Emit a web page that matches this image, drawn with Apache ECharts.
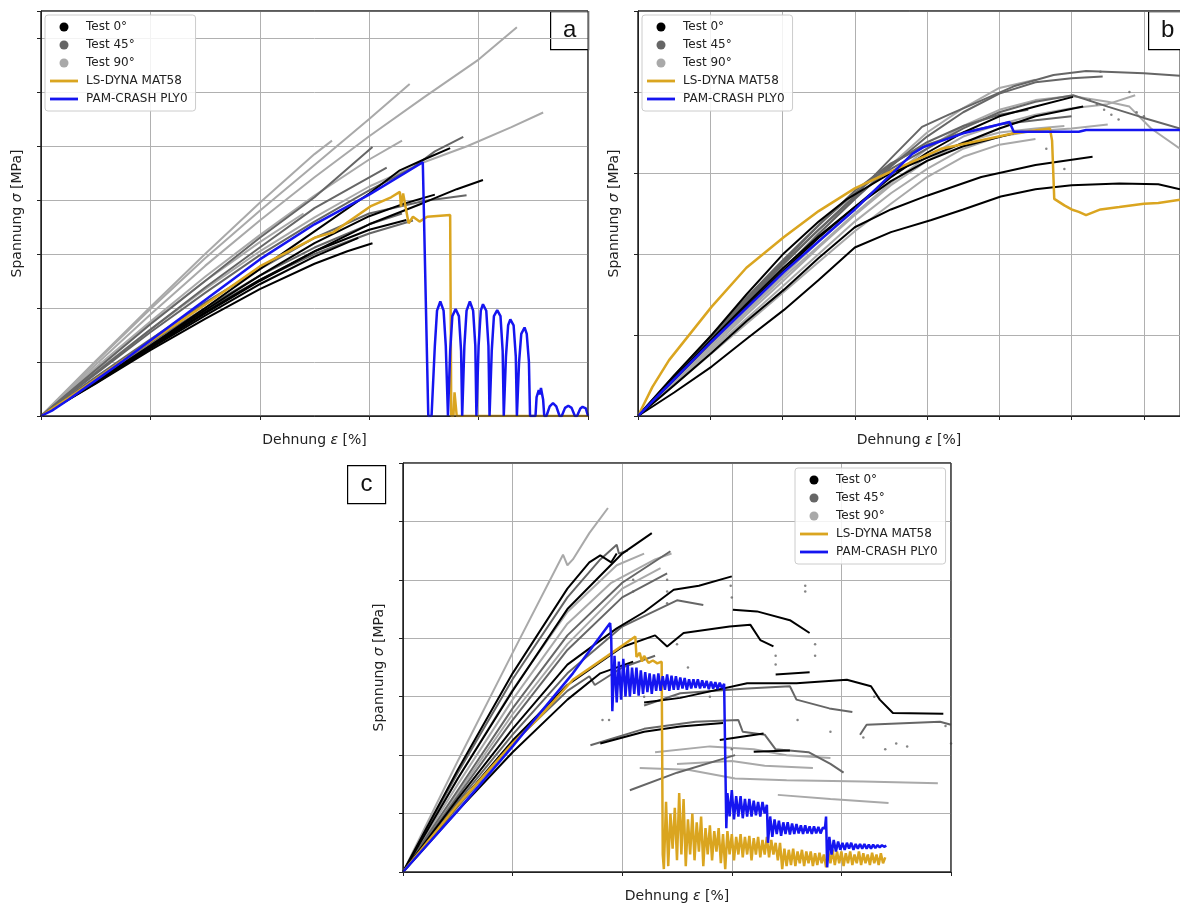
<!DOCTYPE html>
<html><head><meta charset="utf-8">
<script src="https://cdn.jsdelivr.net/npm/echarts@6/dist/echarts.min.js"></script>
<style>html,body{margin:0;padding:0;background:#fff}#c{width:1180px;height:904px}</style>
</head><body><div id="c"></div>
<script>
// ---------- names ----------
const LEGEND_NAMES = ['Test 0°', 'Test 45°', 'Test 90°', 'LS-DYNA MAT58', 'PAM-CRASH PLY0'];
const X_NAME = 'Dehnung ε [%]';
const Y_NAME = 'Spannung σ [MPa]';
const PANEL_LABELS = ['a', 'b', 'c'];

// ---------- panel a (strain vs stress, arbitrary units) ----------
const A_TEST0 = [
  [[0,0],[0.5,0.62],[1,1.3],[1.5,2.0],[2,2.72],[2.5,3.42],[3,4.12],[3.28,4.55],[3.5,4.75],[3.74,4.96]],
  [[0,0],[0.5,0.62],[1,1.27],[1.5,1.9],[2,2.5],[2.5,3.05],[3,3.55],[3.5,3.95],[3.8,4.2],[4.04,4.37]],
  [[0,0],[0.5,0.6],[1,1.22],[1.5,1.8],[2,2.35],[2.5,2.82],[2.8,3.05],[3.03,3.2]],
  [[0,0],[0.5,0.63],[1,1.28],[1.5,1.92],[2,2.52],[2.5,3.05],[3,3.45],[3.34,3.63]],
  [[0,0],[0.5,0.64],[1,1.3],[1.5,1.96],[2,2.6],[2.5,3.2],[3,3.7],[3.3,3.92],[3.6,4.1]],
  [[0,0],[0.5,0.61],[1,1.25],[1.5,1.86],[2,2.44],[2.5,2.95],[2.9,3.3]]
];
const A_TEST45 = [
  [[0,0],[0.5,0.78],[1,1.55],[1.5,2.28],[2,2.98],[2.5,3.6],[3,4.18],[3.4,4.6],[3.6,4.9],[3.86,5.17]],
  [[0,0],[0.5,0.85],[1,1.7],[1.5,2.5],[2,3.3],[2.5,4.05],[3.03,4.98]],
  [[0,0],[0.5,0.72],[1,1.42],[1.5,2.1],[2,2.72],[2.5,3.3],[3,3.75],[3.5,3.98],[3.89,4.09]],
  [[0,0],[0.5,0.66],[1,1.32],[1.5,1.95],[2,2.52],[2.5,3.0],[3,3.38],[3.4,3.62]],
  [[0,0],[0.5,0.8],[1,1.6],[1.5,2.38],[2,3.12],[2.5,3.85],[3.16,4.6]],
  [[0,0],[0.5,0.68],[1,1.36],[1.5,2.0],[2,2.6],[2.5,3.12],[3,3.55],[3.3,3.75]]
];
const A_TEST90 = [
  [[0,0],[0.5,0.95],[1,1.88],[1.5,2.78],[2,3.62],[2.5,4.42],[3,5.18],[3.5,5.9],[4,6.6],[4.35,7.2]],
  [[0,0],[0.5,1.0],[1,1.98],[1.5,2.92],[2,3.8],[2.5,4.65],[3,5.5],[3.37,6.15]],
  [[0,0],[0.5,0.82],[1,1.6],[1.5,2.35],[2,3.05],[2.5,3.68],[3,4.25],[3.5,4.7],[3.9,5.0],[4.3,5.35],[4.59,5.62]],
  [[0,0],[0.5,1.02],[1,2.02],[1.5,3.0],[2,3.95],[2.5,4.85],[2.66,5.1]],
  [[0,0],[0.5,0.9],[1,1.75],[1.5,2.58],[2,3.35],[2.5,4.08],[3,4.75],[3.3,5.1]],
  [[0,0],[0.5,0.88],[1,1.72],[1.5,2.5],[2,3.22],[2.4,3.75]]
];
const A_LSDYNA = [[0,0],[0.25,0.33],[0.5,0.68],[0.75,1.03],[1,1.38],[1.5,2.06],[2,2.77],[2.5,3.3],[2.67,3.4],[3.01,3.88],[3.2,4.05],[3.28,4.15],[3.29,3.88],[3.31,4.12],[3.36,3.57],[3.4,3.69],[3.46,3.6],[3.53,3.69],[3.74,3.72],[3.75,0],[3.77,0],[3.78,0.44],[3.8,0],[5,0]];
const A_PAMCRASH = [[0,0],[0.1,0.1],[0.25,0.3],[0.5,0.66],[0.75,1.02],[1,1.4],[1.5,2.15],[2,2.9],[2.5,3.55],[3,4.1],[3.49,4.7],[3.54,0],
  [3.57,0],[3.6,1.3],[3.62,1.95],[3.65,2.12],[3.68,1.95],[3.7,1.3],[3.72,0],
  [3.74,1.2],[3.76,1.85],[3.79,1.98],[3.82,1.85],[3.84,1.2],[3.85,0],
  [3.87,1.3],[3.89,1.95],[3.92,2.12],[3.95,1.95],[3.97,1.3],[3.98,0],
  [4.0,1.3],[4.02,1.95],[4.04,2.07],[4.07,1.95],[4.09,1.3],[4.1,0],
  [4.12,1.2],[4.14,1.85],[4.17,1.96],[4.2,1.85],[4.22,1.2],[4.23,0],
  [4.25,1.1],[4.27,1.68],[4.29,1.79],[4.32,1.68],[4.34,1.1],[4.35,0],
  [4.37,1.0],[4.39,1.52],[4.42,1.64],[4.44,1.52],[4.46,1.0],[4.47,0],
  [4.52,0],[4.53,0.35],[4.55,0.48],[4.56,0.4],[4.57,0.52],[4.59,0.3],[4.6,0],
  [4.62,0],[4.65,0.18],[4.68,0.24],[4.71,0.18],[4.74,0],
  [4.76,0],[4.79,0.15],[4.82,0.19],[4.85,0.15],[4.88,0],
  [4.9,0],[4.93,0.14],[4.95,0.17],[4.98,0.14],[5.0,0]];

// ---------- panel b ----------
const B_TEST0 = [
  [[0,0],[0.5,0.29],[1.02,0.61],[1.5,0.95],[2.02,1.31],[2.5,1.68],[3,2.08],[3.5,2.27],[4.06,2.42],[4.5,2.55],[5.02,2.71],[5.5,2.8],[6,2.85],[6.66,2.87],[7.2,2.86],[7.5,2.8]],
  [[0,0],[0.5,0.38],[1.02,0.78],[1.5,1.17],[2.02,1.56],[2.5,1.95],[3,2.33],[3.5,2.55],[4,2.72],[4.75,2.95],[5.5,3.1],[6.29,3.2]],
  [[0,0],[0.5,0.5],[1.02,1.0],[1.5,1.5],[2.02,2.01],[2.5,2.4],[2.88,2.67],[3.5,3.0],[4.3,3.3],[5,3.55],[5.5,3.7],[6.16,3.82]],
  [[0,0],[0.5,0.47],[1,0.93],[1.5,1.38],[2,1.82],[2.5,2.22],[3,2.58],[3.5,2.9],[4,3.15],[4.5,3.33],[5.2,3.49]],
  [[0,0],[0.5,0.45],[1,0.9],[1.5,1.35],[2,1.78],[2.5,2.2],[3,2.58],[3.5,2.95],[4,3.25],[4.5,3.5],[5,3.7],[5.5,3.82],[6.02,3.94]]
];
const B_TEST45 = [
  [[0,0],[0.5,0.46],[1,0.93],[1.5,1.4],[2,1.86],[2.5,2.3],[3,2.72],[3.5,3.18],[3.93,3.57],[4.3,3.72],[4.66,3.86],[5.2,4.07],[5.75,4.21],[6.2,4.26],[7,4.23],[7.5,4.2]],
  [[0,0],[0.5,0.45],[1,0.9],[1.5,1.36],[2,1.8],[2.5,2.25],[3,2.68],[3.5,3.08],[4,3.45],[4.5,3.75],[5,3.98],[5.5,4.12],[6.0,4.17],[6.43,4.19]],
  [[0,0],[0.5,0.47],[1,0.95],[1.5,1.42],[2,1.88],[2.5,2.3],[3,2.7],[3.5,3.05],[4,3.3],[4.5,3.55],[5,3.75],[5.5,3.88],[6.02,3.96],[6.5,3.82],[7,3.68],[7.5,3.55]],
  [[0,0],[0.5,0.48],[1,0.96],[1.5,1.44],[2,1.9],[2.5,2.35],[3,2.78],[3.5,3.12],[4,3.35],[4.5,3.5],[5,3.6],[5.5,3.65],[6.0,3.7]],
  [[0,0],[0.5,0.5],[1,0.98],[1.5,1.46],[2,1.92],[2.5,2.36],[3,2.75],[3.5,3.1],[4,3.38],[4.5,3.58],[5,3.72],[5.4,3.78]]
];
const B_TEST90 = [
  [[0,0],[0.5,0.42],[1,0.85],[1.5,1.28],[2,1.7],[2.5,2.1],[3,2.5],[3.5,2.88],[4,3.2],[4.5,3.45],[5,3.6],[5.5,3.72],[6,3.8],[6.5,3.85],[6.88,3.96]],
  [[0,0],[0.5,0.4],[1,0.8],[1.5,1.2],[2,1.6],[2.5,2.0],[3,2.4],[3.5,2.75],[4,3.05],[4.5,3.3],[5,3.45],[5.5,3.52],[6,3.55],[6.5,3.6]],
  [[0,0],[0.5,0.44],[1,0.9],[1.5,1.35],[2,1.8],[2.5,2.25],[3,2.68],[3.5,3.1],[4,3.5],[4.5,3.8],[5,4.05],[5.5,4.15]],
  [[0,0],[0.5,0.38],[1,0.76],[1.5,1.14],[2,1.52],[2.5,1.9],[3,2.28],[3.5,2.62],[4,2.95],[4.5,3.2],[5,3.35],[5.5,3.42]],
  [[0,0],[0.5,0.43],[1,0.87],[1.5,1.3],[2,1.73],[2.5,2.15],[3,2.55],[3.5,2.95],[4,3.3],[4.5,3.58],[5,3.78],[5.5,3.9],[6,3.95],[6.5,3.88],[6.8,3.82],[7.1,3.55],[7.5,3.3]],
  [[0,0],[0.5,0.41],[1,0.82],[1.5,1.25],[2,1.66],[2.5,2.08],[3,2.48],[3.5,2.85],[4,3.15],[4.5,3.38],[5,3.5],[5.5,3.55],[5.9,3.58]]
];
const B_LSDYNA = [[0,0],[0.2,0.36],[0.43,0.69],[1.02,1.35],[1.5,1.83],[2.02,2.21],[2.5,2.53],[3,2.81],[3.6,3.06],[4.2,3.3],[5.2,3.49],[5.7,3.55],[5.73,3.4],[5.76,2.68],[5.9,2.6],[6.0,2.55],[6.1,2.52],[6.2,2.48],[6.4,2.55],[6.66,2.58],[7,2.62],[7.2,2.63],[7.5,2.67]];
const B_PAMCRASH = [[0,0],[1.02,0.92],[2.02,1.78],[3,2.55],[3.8,3.24],[3.95,3.32],[4.5,3.49],[5.14,3.63],[5.2,3.51],[6.1,3.51],[6.2,3.53],[7.5,3.53]];

// ---------- panel c ----------
const C_TEST0 = [
  [[0,0],[0.5,1.6],[1,3.1],[1.5,4.5],[2,5.45],[2.27,5.8]],
  [[0,0],[0.5,1.75],[1,3.4],[1.5,4.85],[1.7,5.3],[1.8,5.42],[1.9,5.3],[1.95,5.45]],
  [[0,0],[0.5,1.25],[1,2.45],[1.5,3.55],[1.95,4.17],[2.2,4.45],[2.47,4.83],[2.7,4.9],[3.0,5.06]],
  [[0,0],[0.5,1.15],[1,2.25],[1.5,3.2],[2.0,3.85],[2.3,4.05],[2.41,3.86],[2.56,4.09],[2.98,4.2],[3.17,4.23],[3.26,3.97],[3.38,3.86]],
  [[3.01,4.49],[3.23,4.46],[3.53,4.31],[3.71,4.09]],
  [[3.4,3.38],[3.71,3.42]],
  [[2.2,2.9],[2.53,2.98],[3.14,3.23],[3.59,3.23],[4.05,3.29],[4.27,3.18],[4.35,2.95],[4.47,2.72],[4.93,2.71]],
  [[1.8,2.2],[2.2,2.4],[2.53,2.49],[2.92,2.55]],
  [[2.89,2.26],[3.29,2.37]],
  [[3.2,2.06],[3.53,2.08]],
  [[0,0],[0.5,1.05],[1,2.05],[1.5,2.95],[1.8,3.4],[2.1,3.6]]
];
const C_TEST45 = [
  [[0,0],[0.5,1.7],[1,3.3],[1.5,4.7],[1.8,5.35],[1.95,5.6],[1.97,5.45],[2.05,5.5]],
  [[0,0],[0.5,1.4],[1,2.8],[1.5,4.05],[2,4.95],[2.44,5.49]],
  [[0,0],[0.5,1.3],[1,2.6],[1.5,3.8],[2,4.7],[2.41,5.11]],
  [[0,0],[0.5,1.2],[1,2.35],[1.5,3.4],[2,4.2],[2.5,4.65],[2.74,4.57]],
  [[1.71,2.17],[2.2,2.45],[2.67,2.57],[3.06,2.6],[3.1,2.4],[3.3,2.35],[3.4,2.1],[3.7,2.05],[3.9,1.85],[4.02,1.7]],
  [[2.07,1.4],[2.5,1.7],[3.03,2.0]],
  [[4.17,2.35],[4.23,2.52],[4.9,2.57],[5.0,2.52]],
  [[2.2,2.85],[2.53,3.06],[3.14,3.14],[3.53,3.18],[3.59,2.95],[3.89,2.8],[4.1,2.74]],
  [[0,0],[0.5,1.12],[1,2.2],[1.5,3.1],[1.7,3.35],[1.75,3.2],[2.0,3.5],[2.3,3.7]]
];
const C_TEST90 = [
  [[0,0],[0.5,1.9],[1,3.75],[1.46,5.43],[1.5,5.25],[1.55,5.35],[1.7,5.8],[1.87,6.23]],
  [[0,0],[0.5,1.6],[1,3.12],[1.5,4.45],[1.95,5.25],[2.2,5.45]],
  [[0,0],[0.5,1.5],[1,2.95],[1.5,4.25],[1.9,4.95],[2.3,5.35],[2.45,5.45]],
  [[0,0],[0.5,1.35],[1,2.7],[1.5,3.9],[2,4.85],[2.35,5.2]],
  [[2.16,1.78],[2.6,1.75],[3.03,1.6],[3.5,1.57],[4.2,1.55],[4.88,1.52]],
  [[3.42,1.32],[3.9,1.25],[4.43,1.18]],
  [[2.3,2.05],[2.8,2.15],[3.2,2.1],[3.5,2.0],[3.9,1.95]],
  [[2.5,1.85],[3.0,1.9],[3.3,1.82],[3.74,1.78]]
];
const C_LSDYNA = [[0,0],[0.5,1.15],[1,2.2],[1.25,2.66],[1.55,3.29],[1.86,3.69],[2.12,4.03],[2.13,3.68],[2.16,3.75],[2.18,3.6],[2.2,3.7],[2.24,3.58],[2.28,3.62],[2.32,3.57],[2.36,3.6],[2.37,0.3],
  [2.38,0.05],[2.40,1.2],[2.42,0.1],[2.44,1.0],[2.46,0.4],[2.48,1.1],[2.50,0.2],[2.52,1.35],[2.54,0.3],[2.56,1.25],[2.58,0.1],[2.60,0.9],[2.62,0.3],[2.64,1.0],[2.66,0.2],[2.68,0.85],[2.70,0.35],[2.72,0.95],[2.74,0.1],[2.76,0.75],[2.78,0.3],[2.80,0.8],[2.82,0.2],[2.84,0.7],[2.86,0.35],[2.88,0.75],[2.90,0.15],[2.92,0.65],[2.94,0.05],[2.96,0.7],[2.98,0.3],[3.00,0.65],[3.02,0.2],[3.04,0.6],[3.06,0.3],[3.08,0.65],[3.10,0.25],[3.12,0.6],[3.14,0.3],[3.16,0.62],[3.18,0.2],[3.20,0.58],[3.22,0.3],[3.24,0.6],[3.26,0.25],[3.28,0.55],[3.30,0.3],[3.32,0.6],[3.34,0.25],[3.36,0.55],[3.38,0.3],[3.40,0.5],[3.42,0.2],[3.44,0.5],[3.46,0.05],[3.48,0.4],[3.50,0.1],[3.52,0.38],[3.54,0.12],[3.56,0.4],[3.58,0.1],[3.60,0.35],[3.62,0.15],[3.64,0.38],[3.66,0.1],[3.68,0.35],[3.70,0.15],[3.72,0.35],[3.74,0.1],[3.76,0.32],[3.78,0.12],[3.80,0.33],[3.82,0.15],[3.84,0.3],[3.86,0.08],[3.88,0.35],[3.90,0.15],[3.92,0.38],[3.94,0.12],[3.96,0.35],[3.98,0.15],[4.00,0.35],[4.02,0.1],[4.04,0.32],[4.06,0.15],[4.08,0.35],[4.10,0.12],[4.12,0.3],[4.14,0.15],[4.16,0.35],[4.18,0.12],[4.20,0.32],[4.22,0.15],[4.24,0.3],[4.26,0.12],[4.28,0.33],[4.30,0.15],[4.32,0.3],[4.34,0.12],[4.36,0.32],[4.38,0.15],[4.40,0.25]];
const C_PAMCRASH = [[0,0],[0.5,1.05],[1.0,2.15],[1.25,2.72],[1.55,3.4],[1.89,4.26],[1.9,4.0],[1.91,2.75],[1.93,3.7],[1.95,2.9],[1.97,3.6],[1.99,2.95],[2.01,3.65],[2.03,3.0],[2.05,3.55],[2.07,3.0],[2.09,3.5],[2.11,3.05],[2.13,3.5],[2.15,3.02],[2.17,3.45],[2.19,3.05],[2.21,3.42],[2.23,3.08],[2.25,3.4],[2.27,3.05],[2.29,3.38],[2.31,3.1],[2.33,3.4],[2.35,3.1],[2.37,3.35],[2.39,3.12],[2.41,3.38],[2.43,3.1],[2.45,3.36],[2.47,3.12],[2.49,3.35],[2.51,3.12],[2.53,3.33],[2.55,3.14],[2.57,3.32],[2.59,3.12],[2.61,3.3],[2.63,3.14],[2.65,3.3],[2.67,3.15],[2.69,3.3],[2.71,3.14],[2.73,3.28],[2.75,3.15],[2.77,3.27],[2.79,3.13],[2.81,3.26],[2.83,3.14],[2.85,3.25],[2.87,3.13],[2.89,3.24],[2.91,3.15],[2.93,3.22],[2.94,3.2],
  [2.95,0.75],[2.96,1.35],[2.98,0.95],[3.0,1.4],[3.02,0.9],[3.04,1.3],[3.06,0.95],[3.08,1.3],[3.10,0.92],[3.12,1.25],[3.14,0.95],[3.16,1.25],[3.18,0.95],[3.20,1.22],[3.22,0.97],[3.24,1.2],[3.26,0.95],[3.28,1.2],[3.30,1.0],[3.32,1.15],
  [3.33,0.5],[3.35,0.95],[3.37,0.6],[3.39,0.9],[3.41,0.65],[3.43,0.88],[3.45,0.62],[3.47,0.85],[3.49,0.65],[3.51,0.85],[3.53,0.64],[3.55,0.83],[3.57,0.65],[3.59,0.82],[3.61,0.66],[3.63,0.8],[3.65,0.65],[3.67,0.8],[3.69,0.66],[3.71,0.78],[3.73,0.65],[3.75,0.78],[3.77,0.66],[3.79,0.77],[3.81,0.66],[3.83,0.76],[3.85,0.75],[3.86,0.95],
  [3.87,0.08],[3.89,0.6],[3.91,0.3],[3.93,0.55],[3.95,0.35],[3.97,0.52],[3.99,0.38],[4.01,0.5],[4.03,0.38],[4.05,0.5],[4.07,0.4],[4.09,0.5],[4.11,0.38],[4.13,0.48],[4.15,0.4],[4.17,0.48],[4.19,0.4],[4.21,0.48],[4.23,0.4],[4.25,0.47],[4.27,0.4],[4.29,0.47],[4.31,0.41],[4.33,0.46],[4.35,0.42],[4.37,0.46],[4.39,0.43],[4.41,0.45]];
const C_DOTS = [[2.41,5.0],[2.41,4.8],[2.41,4.6],[2.99,4.9],[3.0,4.7],[3.67,4.9],[3.67,4.8],[3.76,3.9],[3.76,3.7],[2.5,3.9],[2.6,3.5],[2.8,3.0],[3.4,3.7],[3.4,3.55],[3.6,2.6],[4.3,3.0],[4.2,2.3],[4.5,2.2],[4.6,2.15],[5.0,2.2],[4.95,2.5],[3.0,2.1],[2.2,3.0],[1.82,2.6],[1.88,2.6],[2.1,5.0],[2.1,4.8],[2.7,3.2],[3.9,2.4],[4.4,2.1]];
const B_DOTS = [[6.25,3.9],[6.35,3.85],[6.45,3.78],[6.55,3.72],[6.65,3.66],[5.65,3.3],[5.9,3.05],[6.4,4.25],[6.8,4.0],[6.9,3.75],[7.0,3.7]];

// ---------- build ----------
const COL = { t0: '#000000', t45: '#666666', t90: '#a9a9a9', ls: '#DAA520', pam: '#1515f0' };
const FONT = 'DejaVu Sans';
const LINE_ICON = 'path://M0,0H30V3H0Z';
const panels = [
  { grid: { left: 41, top: 11, width: 547, height: 405 }, xmax: 5, ymax: 7.5,
    t0: A_TEST0, t45: A_TEST45, t90: A_TEST90, ls: A_LSDYNA, pam: A_PAMCRASH, dots: [],
    legend: { left: 45, top: 15 }, label: { x: 550, y: 11 } },
  { grid: { left: 638, top: 11, width: 550, height: 405 }, xmax: 7.5, ymax: 5,
    t0: B_TEST0, t45: B_TEST45, t90: B_TEST90, ls: B_LSDYNA, pam: B_PAMCRASH, dots: B_DOTS,
    legend: { left: 642, top: 15 }, label: { x: 1148, y: 11 } },
  { grid: { left: 403, top: 463, width: 548, height: 409 }, xmax: 5, ymax: 7,
    t0: C_TEST0, t45: C_TEST45, t90: C_TEST90, ls: C_LSDYNA, pam: C_PAMCRASH, dots: C_DOTS,
    legend: { left: 795, top: 468 }, label: { x: 347, y: 465 } }
];

const grids = [], xAxes = [], yAxes = [], series = [], legends = [], graphics = [];
const richName = {
  n: { fontFamily: FONT, fontSize: 14, color: '#222' },
  i: { fontFamily: FONT, fontSize: 14, color: '#222', fontStyle: 'italic' }
};
panels.forEach((p, k) => {
  grids.push(Object.assign({ show: true, borderColor: '#222', borderWidth: 1, backgroundColor: '#fff', containLabel: false }, p.grid));
  const axisCommon = {
    type: 'value', gridIndex: k, min: 0, interval: 1,
    axisLine: { show: true, lineStyle: { color: '#222', width: 1 } },
    axisTick: { show: true, length: 4, lineStyle: { color: '#222' } },
    axisLabel: { show: false },
    splitLine: { show: true, lineStyle: { color: '#b0b0b0', width: 1 } },
    nameLocation: 'middle', nameTextStyle: { rich: richName }
  };
  xAxes.push(Object.assign({}, axisCommon, { max: p.xmax, name: '{n|Dehnung }{i|ε}{n| [%]}', nameGap: 17 }));
  yAxes.push(Object.assign({}, axisCommon, { max: p.ymax, name: '{n|Spannung }{i|σ}{n| [MPa]}', nameGap: 17 }));
  const addGroup = (curves, name, color, width, z) => {
    curves.forEach(c => series.push({
      type: 'line', name, xAxisIndex: k, yAxisIndex: k, data: c, showSymbol: false, symbol: 'none',
      lineStyle: { color, width }, itemStyle: { color }, color, z, silent: true, clip: true
    }));
  };
  addGroup(p.t90, 'Test 90°', COL.t90, 2, 2);
  addGroup(p.t45, 'Test 45°', COL.t45, 2, 3);
  addGroup(p.t0, 'Test 0°', COL.t0, 2, 4);
  if (p.dots.length) series.push({
    type: 'scatter', name: 'Test 45°', xAxisIndex: k, yAxisIndex: k, data: p.dots, symbolSize: 2.5,
    itemStyle: { color: COL.t45 }, z: 3, silent: true
  });
  addGroup([p.ls], 'LS-DYNA MAT58', COL.ls, 2.5, 5);
  addGroup([p.pam], 'PAM-CRASH PLY0', COL.pam, 2.5, 6);
  legends.push({
    orient: 'vertical', left: p.legend.left, top: p.legend.top, itemWidth: 28, itemHeight: 9, itemGap: 4,
    padding: [5, 8, 5, 5], borderColor: '#cccccc', borderWidth: 1, borderRadius: 3,
    backgroundColor: 'rgba(255,255,255,0.85)', selectedMode: false, z: 20, symbolKeepAspect: true,
    textStyle: { fontFamily: FONT, fontSize: 12, color: '#222', lineHeight: 14, padding: [0, 0, 0, 3] },
    data: [
      { name: 'Test 0°', icon: 'circle' }, { name: 'Test 45°', icon: 'circle' }, { name: 'Test 90°', icon: 'circle' },
      { name: 'LS-DYNA MAT58', icon: LINE_ICON }, { name: 'PAM-CRASH PLY0', icon: LINE_ICON }
    ]
  });
  const g = p.grid;
  graphics.push({
    type: 'rect', z: 25, silent: true,
    shape: { x: g.left, y: g.top, width: g.width, height: g.height },
    style: { fill: 'none', stroke: '#222', lineWidth: 1 }
  });
  graphics.push({
    type: 'group', left: p.label.x, top: p.label.y, z: 30, children: [
      { type: 'rect', shape: { x: 0, y: 0, width: 38, height: 38 }, style: { fill: '#fff', stroke: '#000', lineWidth: 1.2 } },
      { type: 'text', x: 19, y: 19, style: { text: PANEL_LABELS[k], fontFamily: 'Liberation Sans', fontSize: 24, fill: '#111', align: 'center', verticalAlign: 'middle' } }
    ]
  });
});

const chart = echarts.init(document.getElementById('c'), null, { renderer: 'canvas' });
chart.setOption({
  backgroundColor: '#fff', animation: false,
  grid: grids, xAxis: xAxes, yAxis: yAxes, series, legend: legends, graphic: graphics
});
</script></body></html>
